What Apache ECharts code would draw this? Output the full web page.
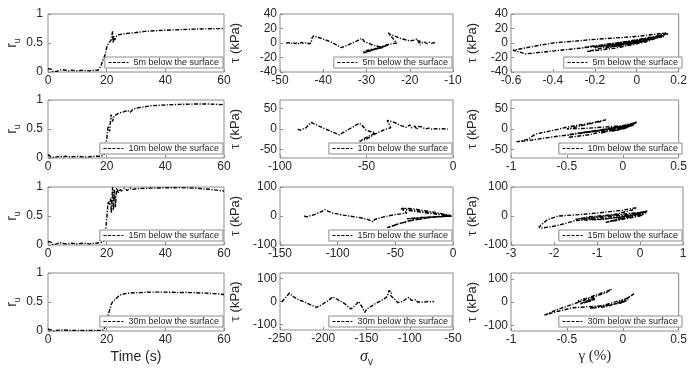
<!DOCTYPE html>
<html>
<head>
<meta charset="utf-8">
<script src="https://cdn.jsdelivr.net/npm/echarts@6/dist/echarts.min.js"></script>
<style>html,body{margin:0;padding:0;background:#fff}#chart{width:690px;height:368px}</style>
</head>
<body>
<div id="chart"></div>
<script>
var depths = ['5m below the surface', '10m below the surface', '15m below the surface', '30m below the surface'];

// r_u vs time
var t5 = [0,0.5,1,1.5,2,3,4,5,6,7,8,10,12,14,16,17,17.5,18,18.5,19,19.5,20,20.5,21,21.5,22,22.2,22.5,22.8,23,23.5,24,25,26,28,30,33,36,40,45,50,55,60];
var ru5 = [0.06,0.03,0.05,0.01,0.02,0.01,0.03,0.04,0.03,0.02,0.03,0.02,0.03,0.02,0.03,0.03,0.05,0.1,0.17,0.2,0.3,0.42,0.48,0.5,0.55,0.7,0.5,0.62,0.55,0.6,0.62,0.64,0.65,0.66,0.67,0.68,0.7,0.71,0.72,0.73,0.74,0.745,0.75];
var t10 = [0,0.5,1,1.5,2,3,4,5,6,8,10,12,14,16,18,19,19.5,20,20.5,21,21.5,22,22.5,23,24,26,27,28,29,30,35,40,45,50,55,60];
var ru10 = [0.06,0.04,0.02,0.03,0.01,0.02,0.03,0.02,0.03,0.02,0.03,0.02,0.02,0.03,0.03,0.05,0.1,0.32,0.55,0.46,0.75,0.63,0.72,0.74,0.77,0.8,0.82,0.79,0.84,0.86,0.9,0.915,0.925,0.93,0.93,0.92];
var t15 = [0,0.5,1,1.5,2,3,4,5,6,8,10,12,14,16,18,19,19.5,20,20.5,21,21.3,21.6,22,22.3,22.6,23,23.4,24,24.5,25,26,27,28,29,30,35,40,45,50,55,60];
var ru15 = [0.06,0.03,0.05,0.01,0.02,0.02,0.04,0.03,0.02,0.03,0.02,0.03,0.02,0.03,0.04,0.06,0.15,0.45,0.75,0.7,0.8,0.55,1.0,0.6,0.95,0.65,0.98,0.9,0.97,0.93,0.98,0.94,0.98,0.96,0.97,0.98,0.985,0.99,0.98,0.96,0.93];
var t30 = [0,1,2,3,5,8,10,12,15,18,19,19.5,20,20.5,21,21.5,22,23,24,25,27,30,35,40,45,50,55,60];
var ru30 = [0.03,0.02,0.0,0.01,0.02,0.01,0.01,0.01,0.01,0.01,0.02,0.08,0.18,0.28,0.36,0.45,0.5,0.55,0.6,0.63,0.65,0.66,0.67,0.67,0.665,0.66,0.65,0.63];

// tau vs sigma_v
var sig5 = [[-48.6,0],[-48,0.5],[-47.5,-1],[-47,1],[-46.5,-1],[-46,0.5],[-45.5,-1.5],[-45,1],[-44.5,-1],[-44,0.5],[-43.3,-1],[-42.8,0],[-42.6,7],[-42.2,10],[-41.8,9],[-38,1],[-35.8,-6.5],[-34,-2],[-32.5,2],[-31,6.5],[-30.5,2],[-28.5,-3],[-27,-5],[-26,-6],[-29,-10],[-30.8,-14],[-30.5,-11],[-27.5,-7],[-25,-3],[-26,-5],[-30,-12.5],[-29,-10],[-25,-2],[-23,0],[-25,14],[-24.5,12],[-22,6],[-20,3],[-19,4],[-18.3,6],[-18,2],[-17.5,-3],[-17.8,3],[-17,0],[-16.5,1],[-16,-1],[-15.5,1],[-15,-0.5],[-14.5,0.5],[-13.8,0]];
var sig10 = [[-89.8,0],[-88.5,-3],[-87.5,-5],[-85,3],[-82,16],[-78,8],[-72,-3],[-65.7,-14],[-60,0],[-54,14],[-52,6],[-50.5,-2],[-48,-6],[-45,-9],[-47,-14],[-52,-24],[-54,-30],[-50,-24],[-45,-12],[-44,-8],[-40,-2],[-36,3],[-38,21],[-34,16],[-30,8],[-27,4],[-25,10],[-24,3],[-22,7],[-21,-1],[-20,6],[-19,2],[-18,5],[-16,0],[-14,2],[-12,-1],[-10,1],[-8,0],[-6,1],[-4,0],[-3,0]];
var sig15 = [[-129,0],[-127,-3],[-126,-7],[-120,5],[-114,15],[-111,22],[-108,16],[-104,10],[-95,3],[-85,-3],[-75,-10],[-69,-20],[-68,-12],[-60,-3],[-50,5],[-40,10],[-45,25],[-44,29],[-30,18],[-15,8],[-2,2],[-15,12],[-35,25],[-44,27],[-40,20],[-20,9],[-2,1],[-20,-5],[-40,-18],[-55,-38],[-57,-40],[-50,-30],[-35,-15],[-20,-5],[-5,-1],[-25,-6],[-40,-10],[-25,-4],[-1,0],[-10,2],[-1,-1]];
var sig30 = [[-248,-2],[-246,5],[-243,20],[-239,37],[-236,25],[-230,10],[-220,-5],[-208,-26],[-200,-10],[-195,2],[-189,20],[-185,12],[-175,-10],[-168,-33],[-164,-20],[-159,0],[-155,-25],[-152,-48],[-150,-35],[-148,-30],[-140,-10],[-130,10],[-126,22],[-124,48],[-121,40],[-122,25],[-120,18],[-117,8],[-114,-5],[-112,-10],[-108,0],[-104,12],[-101,18],[-98,5],[-96,-3],[-93,8],[-91,-2],[-89,6],[-87,-2],[-85,5],[-83,-3],[-81,4],[-79,0],[-77,3],[-75,-1],[-73,2],[-72,0]];

// tau vs gamma
var gam5 = [[0,0],[0.03,2],[-0.02,-1],[0.05,4],[-0.05,-3],[0.08,6],[-0.1,-5],[0.1,8],[-0.15,-7],[0.12,10],[-0.2,-9],[-0.24,-12],[-0.1,-7],[0.05,2],[0.15,13],[0.1,9],[-0.1,-2],[-0.3,-8],[-0.53,-15],[-0.59,-10],[-0.5,-5],[-0.4,0],[-0.2,5],[0,9],[0.14,14],[0.1,10],[-0.05,2],[-0.2,-4],[-0.25,-6],[-0.15,-2],[0,4],[0.12,10],[0.05,5],[-0.1,-2],[-0.2,-6],[-0.08,0],[0.08,6],[0.13,9],[0,3],[-0.12,-3],[-0.05,0],[0.05,4]];
var gam10 = [[0,0],[0.05,4],[-0.05,-3],[0.08,8],[-0.1,-6],[0.1,10],[-0.2,-10],[0.12,14],[-0.3,-14],[-0.48,-20],[-0.49,-14],[-0.3,-6],[0,5],[0.12,15],[0.05,8],[-0.3,-8],[-0.6,-18],[-0.85,-28],[-0.95,-31],[-0.85,-25],[-0.78,-12],[-0.6,-2],[-0.49,5],[-0.3,14],[-0.15,22],[-0.2,18],[-0.4,6],[-0.5,0],[-0.3,2],[0,8],[0.13,17],[0.05,10],[-0.2,-4],[-0.4,-10],[-0.2,-2],[0.1,12],[0,6],[-0.25,-6],[-0.1,2],[0.08,10]];
var gam15 = [[0,0],[0.1,8],[-0.2,-6],[0.15,15],[-0.5,-12],[-0.8,-22],[-0.6,-14],[-0.2,-2],[0.17,18],[0,10],[-0.5,-5],[-1.0,-12],[-1.5,-16],[-1.95,-34],[-2.3,-42],[-2.35,-38],[-2.15,-12],[-1.9,0],[-1.4,5],[-0.95,11],[-0.4,20],[-0.08,29],[-0.15,22],[-0.6,5],[-1.2,-3],[-1.5,-12],[-1.3,-8],[-0.8,0],[-0.3,8],[0.1,14],[-0.2,2],[-0.9,-12],[-1.4,-10],[-0.8,-4],[-0.2,6],[0.16,17],[0,8],[-0.8,-22],[-0.5,-14],[0,0],[0.15,12]];
var gam30 = [[0,0],[0.05,10],[-0.03,-8],[0.1,35],[0.05,20],[-0.05,-5],[-0.15,-20],[-0.3,-28],[-0.2,-18],[0,10],[-0.03,-5],[-0.15,-15],[-0.3,-20],[-0.45,-25],[-0.62,-45],[-0.7,-57],[-0.6,-35],[-0.45,-10],[-0.3,15],[-0.15,40],[-0.1,55],[-0.15,45],[-0.3,20],[-0.4,5],[-0.35,-5],[-0.3,10],[-0.25,15],[-0.32,0],[-0.38,-8],[-0.3,8],[-0.25,12],[-0.35,-3],[-0.28,5]];

// axis limits and tick labels
var xLims = [[0,60],[-50,-10],[-0.6,0.2],[0,60],[-100,0],[-1,0.5],[0,60],[-150,0],[-3,1],[0,60],[-250,-50],[-1,0.5]];
var xTicks = [[0,20,40,60],[-50,-40,-30,-20,-10],[-0.6,-0.4,-0.2,0,0.2],
              [0,20,40,60],[-100,-50,0],[-1,-0.5,0,0.5],
              [0,20,40,60],[-150,-100,-50,0],[-3,-2,-1,0,1],
              [0,20,40,60],[-250,-200,-150,-100,-50],[-1,-0.5,0,0.5]];
var tauLims = [[-40,40],[-70,70],[-100,100],[-125,125]];
var tauTicks = [[-40,-20,0,20,40],[-50,0,50],[-100,0,100],[-100,0,100]];
var ruTicks = [0,0.5,1];

function zip(a, b) {
	return a.map(function(v, i) { return [v, b[i]] })
}

var ruData = [zip(t5, ru5), zip(t10, ru10), zip(t15, ru15), zip(t30, ru30)];
var sigData = [sig5, sig10, sig15, sig30];
var gamData = [gam5, gam10, gam15, gam30];

var colLeft = [48, 280, 511], colWidth = [176, 173, 172];
var rowTop = [14, 100, 187, 273], rowH = 58;
var txt = '#262626', boxColor = '#8c8c8c';

var grids = [], xAxes = [], yAxes = [], series = [], legends = [];

for (var r = 0; r < 4; r++) {
	for (var c = 0; c < 3; c++) {
		var k = r * 3 + c;
		grids.push({
			left: colLeft[c], top: rowTop[r], width: colWidth[c], height: rowH,
			show: true, borderColor: boxColor, borderWidth: 1, backgroundColor: '#fff'
		});
		var xa = {
			type: 'value', gridIndex: k, min: xLims[k][0], max: xLims[k][1],
			axisLine: { show: false, onZero: false },
			axisTick: { inside: true, length: 3, lineStyle: { color: boxColor }, customValues: xTicks[k] },
			axisLabel: { color: txt, fontSize: 12, fontFamily: 'Liberation Sans', margin: 3, customValues: xTicks[k], hideOverlap: false },
			splitLine: { show: false }
		};
		if (r === 3) {
			xa.nameLocation = 'middle';
			if (c === 0) {
				xa.name = 'Time (s)';
				xa.nameGap = 19;
				xa.nameTextStyle = { color: txt, fontSize: 14, fontFamily: 'Liberation Sans' };
			} else if (c === 1) {
				xa.name = '{g|σ}{s|v}';
				xa.nameGap = 17;
				xa.nameTextStyle = { color: txt, lineHeight: 20, rich: {
					g: { fontSize: 16, fontStyle: 'italic', fontFamily: 'Liberation Serif', color: txt },
					s: { fontSize: 10, fontFamily: 'Liberation Sans', color: txt, verticalAlign: 'bottom', lineHeight: 10 }
				} };
			} else {
				xa.name = 'γ (%)';
				xa.nameGap = 18;
				xa.nameTextStyle = { color: txt, fontSize: 15, fontFamily: 'Liberation Serif' };
			}
		}
		xAxes.push(xa);

		var ya = {
			type: 'value', gridIndex: k,
			axisLine: { show: false, onZero: false },
			splitLine: { show: false },
			nameLocation: 'middle', nameRotate: 90
		};
		if (c === 0) {
			ya.min = 0; ya.max = 1;
			ya.axisTick = { inside: true, length: 3, lineStyle: { color: boxColor }, customValues: ruTicks };
			ya.axisLabel = { color: txt, fontSize: 12, fontFamily: 'Liberation Sans', margin: 5, customValues: ruTicks };
			ya.name = 'r{s|u}';
			ya.nameGap = 23;
			ya.nameTextStyle = { color: txt, fontSize: 14, fontFamily: 'Liberation Sans', lineHeight: 20, rich: {
				s: { fontSize: 9, fontFamily: 'Liberation Sans', color: txt, verticalAlign: 'bottom', lineHeight: 10 }
			} };
		} else {
			ya.min = tauLims[r][0]; ya.max = tauLims[r][1];
			ya.axisTick = { inside: true, length: 3, lineStyle: { color: boxColor }, customValues: tauTicks[r] };
			ya.axisLabel = { color: txt, fontSize: 12, fontFamily: 'Liberation Sans', margin: 3, customValues: tauTicks[r] };
			ya.name = '{t|τ} (kPa)';
			ya.nameGap = c === 1 ? 38 : 32;
			ya.nameTextStyle = { color: txt, fontSize: 13, fontFamily: 'Liberation Sans', rich: {
				t: { fontSize: 14, fontFamily: 'Liberation Serif', color: txt }
			} };
		}
		yAxes.push(ya);

		var data = c === 0 ? ruData[r] : (c === 1 ? sigData[r] : gamData[r]);
		series.push({
			name: depths[r], type: 'line', xAxisIndex: k, yAxisIndex: k,
			data: data, showSymbol: false, symbol: 'none', smooth: false,
			lineStyle: { color: '#000', width: 1.4, type: [4, 1.5, 1.2, 1.5] },
			itemStyle: { color: '#000' }
		});

		legends.push({
			data: [depths[r]],
			right: 690 - (colLeft[c] + colWidth[c]) + 1,
			bottom: 368 - (rowTop[r] + rowH) + 4,
			orient: 'horizontal',
			backgroundColor: '#fff', borderColor: boxColor, borderWidth: 1,
			padding: [1, 4, 1, 3], itemWidth: 20, itemHeight: 8,
			itemStyle: { opacity: 0 },
			lineStyle: { type: [3, 1.5], width: 1.2 },
			textStyle: { fontSize: 9, color: txt, fontFamily: 'Liberation Sans' },
			selectedMode: false
		});
	}
}

var chart = echarts.init(document.getElementById('chart'));
chart.setOption({
	animation: false,
	backgroundColor: '#fff',
	grid: grids,
	xAxis: xAxes,
	yAxis: yAxes,
	legend: legends,
	series: series
});
</script>
</body>
</html>
